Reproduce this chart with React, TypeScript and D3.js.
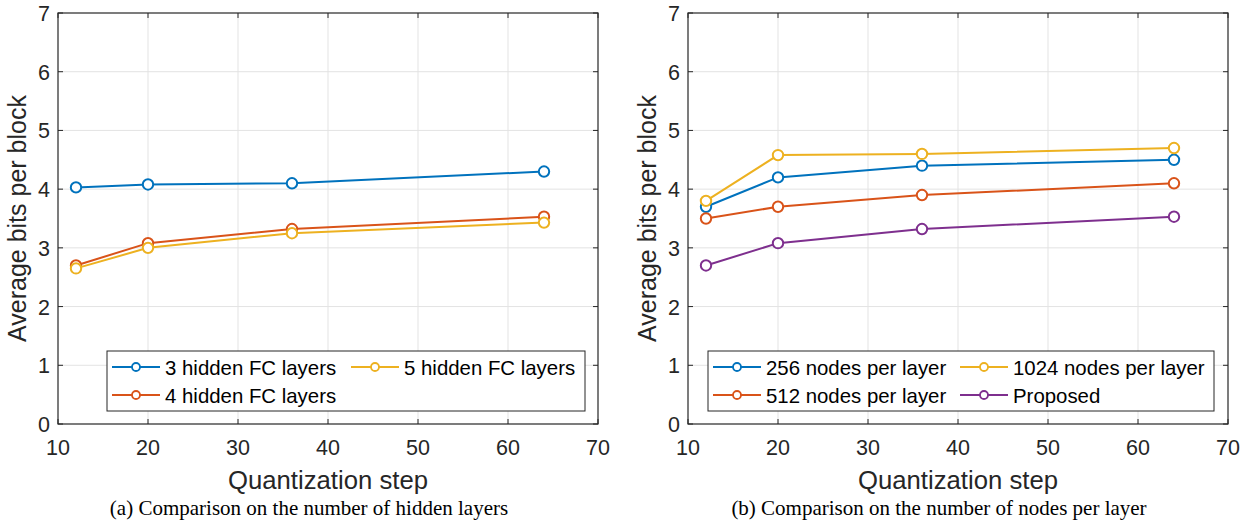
import React from "react";
import * as d3 from "d3";

const xSteps = [12, 20, 36, 64];
const xTicks = [10, 20, 30, 40, 50, 60, 70];
const yTicks = [0, 1, 2, 3, 4, 5, 6, 7];

const leftNames = ["3 hidden FC layers", "4 hidden FC layers", "5 hidden FC layers"];
const hidden3 = [4.03, 4.08, 4.1, 4.3];
const hidden4 = [2.7, 3.08, 3.32, 3.53];
const hidden5 = [2.65, 3.0, 3.25, 3.43];

const rightNames = ["256 nodes per layer", "512 nodes per layer", "1024 nodes per layer", "Proposed"];
const nodes256 = [3.7, 4.2, 4.4, 4.5];
const nodes512 = [3.5, 3.7, 3.9, 4.1];
const nodes1024 = [3.8, 4.58, 4.6, 4.7];
const proposed = [2.7, 3.08, 3.32, 3.53];

const C_BLUE = "#0072BD";
const C_ORANGE = "#D95319";
const C_YELLOW = "#EDB120";
const C_PURPLE = "#7E2F8E";

const FONT = "'Liberation Sans', Arial, Helvetica, sans-serif";
const SERIF = "'Liberation Serif', 'Times New Roman', serif";

type Series = { name: string; values: number[]; color: string };

type PanelProps = {
  left: number;
  series: Series[];
  legendBox: { x: number; y: number; w: number; h: number; col2: number };
  caption: string;
};

const TOP = 13;
const BOTTOM = 424;
const WIDTH = 540;

function Panel({ left, series, legendBox, caption }: PanelProps) {
  const x = d3.scaleLinear().domain([10, 70]).range([left, left + WIDTH]);
  const y = d3.scaleLinear().domain([0, 7]).range([BOTTOM, TOP]);
  const line = d3
    .line<number>()
    .x((_, i) => x(xSteps[i]))
    .y((d) => y(d));
  const tick = 5;
  const rowY = [legendBox.y + 16, legendBox.y + 44];
  const colX = [legendBox.x + 5, legendBox.x + legendBox.col2];
  return (
    <g>
      {xTicks.slice(1, -1).map((t) => (
        <line key={"gx" + t} x1={x(t)} x2={x(t)} y1={TOP} y2={BOTTOM} stroke="#e3e3e3" strokeWidth={1} />
      ))}
      {yTicks.slice(1, -1).map((t) => (
        <line key={"gy" + t} x1={left} x2={left + WIDTH} y1={y(t)} y2={y(t)} stroke="#e3e3e3" strokeWidth={1} />
      ))}
      {series.map((s) => (
        <g key={s.name}>
          <path d={line(s.values) || ""} fill="none" stroke={s.color} strokeWidth={2} />
          {s.values.map((v, i) => (
            <circle key={i} cx={x(xSteps[i])} cy={y(v)} r={5.2} fill="white" stroke={s.color} strokeWidth={2} />
          ))}
        </g>
      ))}
      {xTicks.map((t) => (
        <g key={"tx" + t}>
          <line x1={x(t)} x2={x(t)} y1={BOTTOM} y2={BOTTOM - tick} stroke="#262626" />
          <line x1={x(t)} x2={x(t)} y1={TOP} y2={TOP + tick} stroke="#262626" />
          <text x={x(t)} y={BOTTOM + 31} textAnchor="middle" fontFamily={FONT} fontSize={21.5} fill="#262626">
            {t}
          </text>
        </g>
      ))}
      {yTicks.map((t) => (
        <g key={"ty" + t}>
          <line x1={left} x2={left + tick} y1={y(t)} y2={y(t)} stroke="#262626" />
          <line x1={left + WIDTH} x2={left + WIDTH - tick} y1={y(t)} y2={y(t)} stroke="#262626" />
          <text x={left - 8} y={y(t) + 8} textAnchor="end" fontFamily={FONT} fontSize={21.5} fill="#262626">
            {t}
          </text>
        </g>
      ))}
      <rect x={left} y={TOP} width={WIDTH} height={BOTTOM - TOP} fill="none" stroke="#262626" strokeWidth={1.2} />
      <rect
        x={legendBox.x}
        y={legendBox.y}
        width={legendBox.w}
        height={legendBox.h}
        fill="white"
        stroke="#262626"
        strokeWidth={1}
      />
      {series.map((s, i) => {
        const col = Math.floor(i / 2);
        const row = i % 2;
        const lx = colX[col];
        const ly = rowY[row];
        return (
          <g key={"lg" + s.name}>
            <line x1={lx} x2={lx + 48} y1={ly} y2={ly} stroke={s.color} strokeWidth={2} />
            <circle cx={lx + 24} cy={ly} r={4} fill="white" stroke={s.color} strokeWidth={1.8} />
            <text x={lx + 53} y={ly + 7.5} fontFamily={FONT} fontSize={20.4} fill="#000">
              {s.name}
            </text>
          </g>
        );
      })}
      <text x={left + WIDTH / 2} y={489} textAnchor="middle" fontFamily={FONT} fontSize={25.7} fill="#262626">
        Quantization step
      </text>
      <text
        transform={`translate(${left - 32},${(TOP + BOTTOM) / 2}) rotate(-90)`}
        textAnchor="middle"
        fontFamily={FONT}
        fontSize={25}
        fill="#262626"
      >
        Average bits per block
      </text>
      <text x={left + WIDTH / 2 - 19} y={515} textAnchor="middle" fontFamily={SERIF} fontSize={21} fill="#000">
        {caption}
      </text>
    </g>
  );
}

export default function App() {
  const leftSeries: Series[] = [
    { name: leftNames[0], values: hidden3, color: C_BLUE },
    { name: leftNames[1], values: hidden4, color: C_ORANGE },
    { name: leftNames[2], values: hidden5, color: C_YELLOW },
  ];
  const rightSeries: Series[] = [
    { name: rightNames[0], values: nodes256, color: C_BLUE },
    { name: rightNames[1], values: nodes512, color: C_ORANGE },
    { name: rightNames[2], values: nodes1024, color: C_YELLOW },
    { name: rightNames[3], values: proposed, color: C_PURPLE },
  ];
  return (
    <svg width={1251} height={525} style={{ position: "absolute", left: 0, top: 0, background: "white" }}>
      <rect x={0} y={0} width={1251} height={525} fill="white" />
      <Panel
        left={58}
        series={leftSeries}
        legendBox={{ x: 107, y: 351, w: 478, h: 60, col2: 244 }}
        caption="(a) Comparison on the number of hidden layers"
      />
      <Panel
        left={688}
        series={rightSeries}
        legendBox={{ x: 708, y: 351, w: 506, h: 60, col2: 252 }}
        caption="(b) Comparison on the number of nodes per layer"
      />
    </svg>
  );
}
